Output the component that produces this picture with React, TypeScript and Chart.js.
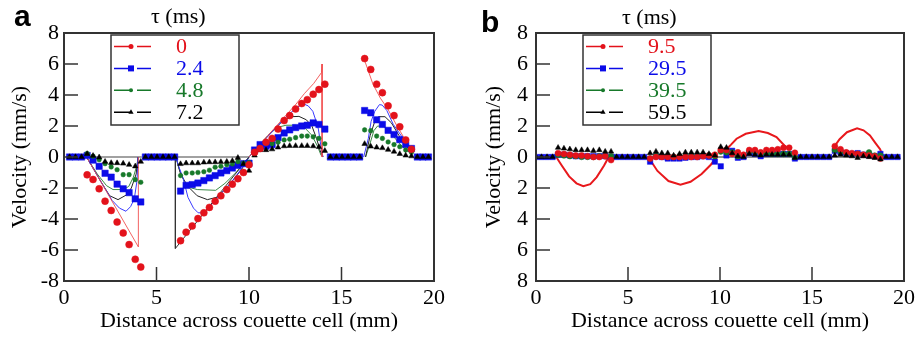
import React, { useEffect, useRef } from "react";
import { Chart, registerables } from "chart.js";

Chart.register(...registerables);

const SERIF = "'Liberation Serif', 'Times New Roman', Times, serif";
const SANS = "'Liberation Sans', Arial, Helvetica, sans-serif";

const RED = "#e3121b";
const BLUE = "#0b0be8";
const GREEN = "#17792a";
const BLACK = "#000000";

// ---------------- Panel a ----------------
const TAU_A = ["0", "2.4", "4.8", "7.2"];
const X_A = [
  0.3, 0.62, 0.95,
  1.25, 1.57, 1.9, 2.22, 2.55, 2.87, 3.2, 3.52, 3.85, 4.15,
  4.4, 4.72, 5.03, 5.35, 5.66, 5.98,
  6.3, 6.6, 6.93, 7.24, 7.56, 7.86, 8.17, 8.48, 8.8, 9.1, 9.4, 9.7, 10.0,
  10.3, 10.6, 10.92, 11.25, 11.57, 11.9, 12.2, 12.52, 12.85, 13.15, 13.47, 13.78, 14.1,
  14.4, 14.72, 15.03, 15.35, 15.66, 15.98,
  16.25, 16.58, 16.9, 17.21, 17.52, 17.84, 18.15, 18.47, 18.78,
  19.1, 19.4, 19.7,
];
const A_TAU0 = [
  null, null, null,
  -1.15, -1.45, -2.05, -2.85, -3.45, -4.2, -4.9, -5.65, -6.6, -7.1,
  null, null, null, null, null, null,
  -5.4, -4.85, -4.45, -3.97, -3.6, -3.25, -2.85, -2.5, -2.1, -1.75, -1.4, -1.0, -0.5,
  0.3, 0.55, 0.95, 1.2, 1.8, 2.35, 2.67, 3.1, 3.45, 3.7, 4.05, 4.35, 4.7,
  null, null, null, null, null, null,
  6.35, 5.65, 4.7, 4.15, 3.3, 2.67, 1.95, 1.1, 0.5,
  null, null, null,
];
const A_TAU24 = [
  0, 0, 0,
  0.1, -0.2, -0.6, -1.05, -1.3, -1.75, -2.05, -2.3, -2.7, -2.9,
  0, 0, 0, 0, 0, 0,
  -2.2, -1.83, -1.78, -1.68, -1.52, -1.35, -1.2, -1.03, -0.88, -0.71, -0.54, -0.43, -0.4,
  0.45, 0.8, 0.7, 0.8, 1.25, 1.55, 1.75, 1.9, 2.0, 2.05, 2.2, 2.1, 1.8,
  0, 0, 0, 0, 0, 0,
  3.0, 2.85, 2.4, 2.1, 1.72, 1.45, 1.12, 0.8, 0.55,
  0, 0, 0,
];
const A_TAU48 = [
  null, null, null,
  0.22, 0.05, -0.17, -0.43, -0.64, -0.82, -1.14, -1.14, -1.46, -1.63,
  null, null, null, null, null, null,
  -1.2, -1.03, -1.03, -1.0, -0.95, -0.85, -0.66, -0.6, -0.5, -0.45, -0.3, -0.4, -0.35,
  0.2, 0.6, 0.9, 0.85, 0.95, 1.1, 1.15, 1.25, 1.35, 1.35, 1.3, 1.2, 0.85,
  null, null, null, null, null, null,
  1.75, 1.7, 1.35, 1.2, 0.97, 0.8, 0.66, 0.45, 0.3,
  null, null, null,
];
const A_TAU72 = [
  0, 0, 0,
  0.2, 0.08, -0.02, -0.3, -0.38, -0.39, -0.42, -0.5, -0.6, -0.3,
  0, 0, 0, 0, 0, 0,
  -0.45, -0.4, -0.4, -0.4, -0.35, -0.33, -0.33, -0.32, -0.3, -0.25, -0.05, -0.45, -0.88,
  0.1, 0.45, 0.45, 0.5, 0.62, 0.7, 0.72, 0.72, 0.72, 0.72, 0.7, 0.65, 0.4,
  0, 0, 0, 0, 0, 0,
  0.85, 0.68, 0.62, 0.58, 0.47, 0.35, 0.2, 0.1, 0.05,
  0, 0, 0,
];
// simulation curves (x, v); null = break between segments
const A_LINE_TAU0 = [
  [1.22, 0], [4.02, -5.8], [4.02, 0], null,
  [10.0, 0], [11.0, 1.35], [12.0, 2.7], [12.5, 3.35], [13.0, 4.1], [13.5, 4.75], [13.92, 5.45], [13.95, 6.0], [13.95, 0], null,
  [16.2, 6.4], [16.7, 4.7], [17.1, 3.8], [17.5, 3.1], [18.0, 2.0], [18.5, 1.0], [18.8, 0.3],
];
const A_LINE_TAU0_GAP2 = [[6.02, 0], [6.02, -5.9], [10.0, 0]];
const A_LINE_TAU24 = [
  [1.22, 0], [2.0, -1.6], [2.6, -2.8], [3.0, -3.3], [3.35, -3.5], [3.6, -3.2], [3.8, -2.7], [3.95, -1.5], [4.0, 0], null,
  [6.05, 0], [6.2, -0.6], [6.45, -1.4], [6.7, -2.6], [7.0, -3.3], [7.25, -3.6], [7.5, -3.6], [7.8, -3.3], [8.5, -2.35], [9.0, -1.7], [9.5, -0.9], [10.0, 0], null,
  [10.0, 0], [11.0, 1.3], [12.0, 2.6], [12.5, 3.1], [12.9, 3.45], [13.2, 3.3], [13.45, 2.95], [13.6, 2.4], [13.75, 1.8], [13.9, 0.6], [14.0, 0], null,
  [16.2, 0], [16.45, 1.2], [16.6, 2.3], [16.8, 2.95], [17.05, 3.38], [17.2, 3.35], [17.45, 3.0], [17.8, 2.1], [18.3, 1.25], [18.8, 0.5],
];
const A_LINE_TAU48 = [
  [1.22, 0], [1.8, -1.1], [2.3, -1.85], [2.65, -2.1], [3.2, -2.1], [3.5, -1.9], [3.75, -1.3], [3.95, -0.5], [4.0, 0], null,
  [6.05, 0], [6.2, -0.7], [6.5, -1.6], [6.9, -2.0], [7.2, -2.1], [8.2, -2.15], [8.7, -1.7], [9.3, -1.0], [10.0, 0], null,
  [10.0, 0], [10.8, 1.1], [11.5, 1.9], [12.0, 2.05], [12.5, 2.05], [13.0, 1.9], [13.4, 1.4], [13.7, 0.7], [13.9, 0.1], [14.0, 0], null,
  [16.3, 0], [16.55, 0.9], [16.75, 1.7], [16.95, 2.0], [17.3, 1.95], [17.7, 1.5], [18.1, 0.9], [18.5, 0.45], [18.8, 0.2],
];
const A_LINE_TAU72 = [
  [1.22, 0], [2.0, -1.6], [2.47, -2.5], [2.92, -2.75], [3.37, -2.45], [3.64, -2.0], [3.9, -1.1], [4.0, 0], null,
  [6.05, 0], [6.3, -1.1], [6.7, -1.9], [7.2, -2.5], [7.75, -2.75], [8.25, -2.6], [8.7, -2.1], [9.2, -1.4], [9.6, -0.8], [10.0, 0], null,
  [10.0, 0], [11.0, 1.35], [11.8, 2.3], [12.3, 2.6], [12.7, 2.62], [13.1, 2.4], [13.4, 2.0], [13.65, 1.2], [13.85, 0.4], [14.0, 0], null,
  [16.3, 0], [16.55, 1.4], [16.8, 2.3], [17.0, 2.6], [17.35, 2.6], [17.7, 2.2], [18.1, 1.4], [18.5, 0.7], [18.8, 0.3],
];
const A_LINE_ZERO = [[1.0, 0], [4.2, 0], null, [6.0, 0], [10.0, 0]];

// ---------------- Panel b ----------------
const TAU_B = ["9.5", "29.5", "39.5", "59.5"];
const X_B = [
  0.0, 0.3, 0.6, 0.9,
  1.2, 1.52, 1.84, 2.16, 2.48, 2.8, 3.12, 3.44, 3.76, 4.08,
  4.38, 4.68, 4.98, 5.28, 5.58, 5.88,
  6.2, 6.52, 6.84, 7.16, 7.48, 7.8, 8.12, 8.44, 8.76, 9.08, 9.4, 9.72, 10.04,
  10.35, 10.66, 10.97, 11.28, 11.59, 11.9, 12.21, 12.52, 12.83, 13.14, 13.45, 13.76, 14.07,
  14.38, 14.69, 15.0, 15.31, 15.62, 15.93,
  16.24, 16.55, 16.86, 17.17, 17.48, 17.79, 18.1, 18.41, 18.72,
  19.03, 19.34, 19.65,
];
const B_TAU95 = [
  null, null, null, null,
  0.25, 0.2, 0.15, 0.1, 0.1, 0.05, 0.0, 0.0, 0.05, -0.2,
  null, null, null, null, null, null,
  -0.1, 0, 0, 0, 0, 0, 0, 0, 0, 0.05, 0.1, 0.15, 0.45,
  0.45, 0.2, 0.3, 0.15, 0.45, 0.45, 0.3, 0.45, 0.45, 0.5, 0.6, 0.6, 0.27,
  null, null, null, null, null, null,
  0.7, 0.5, 0.3, 0.25, 0.2, 0.15, 0.1, 0.05, -0.1,
  null, null, null,
];
const B_TAU295 = [
  0, 0, 0, 0,
  0.15, 0.15, 0.1, 0.05, 0.05, 0.05, 0.05, 0.05, 0.05, 0.0,
  0, 0, 0, 0, 0, 0,
  -0.3, 0.05, 0, -0.1, -0.1, -0.1, -0.05, 0, 0, 0.05, 0, -0.3, -0.6,
  0.1, 0.4, -0.05, 0, 0.25, 0.2, 0.05, 0.2, 0.2, 0.2, 0.2, 0.2, -0.1,
  0, 0, 0, 0, 0, 0,
  0.4, 0.3, 0.25, 0.2, 0.25, 0.15, 0.1, 0.05, 0.2,
  0, 0, 0,
];
const B_TAU395 = [
  null, null, null, null,
  0.15, 0.1, 0.05, 0.05, 0, 0, 0, 0.05, 0.05, 0.05,
  null, null, null, null, null, null,
  -0.1, 0.1, 0.05, 0.05, 0, 0.05, 0.05, 0.1, 0.05, 0.1, 0.1, 0.05, 0.35,
  0.3, 0.3, 0.05, 0.1, 0.35, 0.35, 0.2, 0.25, 0.2, 0.2, 0.2, 0.2, 0,
  null, null, null, null, null, null,
  0.45, 0.35, 0.25, 0.2, 0.2, 0.15, 0.3, 0.1, 0.1,
  null, null, null,
];
const B_TAU595 = [
  0, 0, 0, 0,
  0.6, 0.55, 0.5, 0.45, 0.45, 0.45, 0.4, 0.45, 0.35, 0.35,
  0, 0, 0, 0, 0, 0,
  0.25, 0.35, 0.25, 0.25, 0.1, 0.2, 0.3, 0.3, 0.3, 0.3, 0.2, 0.1, 0.65,
  0.6, 0.25, 0.05, 0, 0.2, 0.15, 0.1, 0.15, 0.15, 0.15, 0.15, 0.15, -0.05,
  0, 0, 0, 0, 0, 0,
  0.1, 0.15, 0.1, 0.05, -0.05, 0.05, 0, -0.05, -0.15,
  0, 0, 0,
];
const B_LINE_TAU95 = [
  [1.1, 0], [1.4, -0.55], [1.8, -1.25], [2.2, -1.7], [2.57, -1.88], [2.95, -1.75], [3.3, -1.3], [3.7, -0.55], [3.95, 0], null,
  [6.1, 0], [6.6, -0.9], [7.2, -1.55], [7.85, -1.78], [8.4, -1.6], [9.0, -1.1], [9.5, -0.5], [9.85, 0], null,
  [10.35, 0.5], [10.6, 0.8], [10.9, 1.18], [11.4, 1.5], [12.1, 1.67], [12.6, 1.55], [13.07, 1.28], [13.5, 0.74], [13.7, 0.55], null,
  [16.2, 0.65], [16.5, 1.15], [16.9, 1.6], [17.45, 1.85], [17.8, 1.72], [18.15, 1.39], [18.45, 0.9], [18.7, 0.5], [18.85, 0.05],
];
const B_LINE_ZERO = [[0.0, 0], [19.8, 0]];

// ---------------- helpers ----------------
type Seg = (number[] | null)[];
const pts = (xs: number[], vs: (number | null)[]) => xs.map((x, i) => ({ x, y: vs[i] }));
const linePts = (segs: Seg) => {
  let lastX = 0;
  return segs.map((p) => {
    if (p) {
      lastX = p[0];
      return { x: p[0], y: p[1] };
    }
    return { x: lastX, y: null as any };
  });
};

const markerSet = (data: any[], color: string, style: string, r: number, order: number) => ({
  type: "line",
  data,
  showLine: false,
  pointStyle: style,
  pointRadius: r,
  pointBackgroundColor: color,
  pointBorderColor: color,
  pointBorderWidth: 0.5,
  order,
});
const lineSet = (data: any[], color: string, w: number, order: number) => ({
  type: "line",
  data,
  showLine: true,
  borderColor: color,
  borderWidth: w,
  pointRadius: 0,
  fill: false,
  tension: 0,
  spanGaps: false,
  order,
});

function drawMarker(ctx: CanvasRenderingContext2D, style: string, x: number, y: number, r: number, color: string) {
  ctx.fillStyle = color;
  ctx.beginPath();
  if (style === "circle") ctx.arc(x, y, r, 0, Math.PI * 2);
  else if (style === "rect") ctx.rect(x - r, y - r, 2 * r, 2 * r);
  else {
    ctx.moveTo(x, y - r * 1.15);
    ctx.lineTo(x + r, y + r * 0.6);
    ctx.lineTo(x - r, y + r * 0.6);
    ctx.closePath();
  }
  ctx.fill();
}

type LegendItem = { label: string; color: string; style: string; r: number };

function makePlugins(legend: LegendItem[]) {
  const frame = {
    id: "frameTicks",
    afterDatasetsDraw(chart: any) {
      const { ctx, chartArea: a, scales } = chart;
      const xs = scales.x;
      const ys = scales.y;
      ctx.save();
      ctx.strokeStyle = "#333";
      ctx.lineWidth = 1.5;
      ctx.beginPath();
      ys.ticks.forEach((t: any) => {
        if (t.value > ys.min && t.value < ys.max) {
          const py = ys.getPixelForValue(t.value);
          ctx.moveTo(a.left, py);
          ctx.lineTo(a.left + 14, py);
        }
      });
      xs.ticks.forEach((t: any) => {
        if (t.value > xs.min && t.value < xs.max) {
          const px = xs.getPixelForValue(t.value);
          ctx.moveTo(px, a.bottom);
          ctx.lineTo(px, a.bottom - 14);
        }
      });
      ctx.stroke();
      ctx.lineWidth = 2;
      ctx.strokeRect(a.left, a.top, a.right - a.left, a.bottom - a.top);
      ctx.restore();
    },
  };
  const leg = {
    id: "boxLegend",
    afterDraw(chart: any) {
      const { ctx, chartArea: a } = chart;
      const bx = a.left + 47;
      const by = a.top + 2;
      const bw = 128;
      const bh = 90;
      ctx.save();
      ctx.fillStyle = "#fff";
      ctx.fillRect(bx, by, bw, bh);
      ctx.strokeStyle = "#333";
      ctx.lineWidth = 1.5;
      ctx.strokeRect(bx, by, bw, bh);
      legend.forEach((it, i) => {
        const cy = by + 11.5 + i * 21.9;
        ctx.strokeStyle = it.color;
        ctx.lineWidth = 1.5;
        ctx.beginPath();
        ctx.moveTo(bx + 3, cy);
        ctx.lineTo(bx + 20, cy);
        ctx.moveTo(bx + 26, cy);
        ctx.lineTo(bx + 40, cy);
        ctx.stroke();
        drawMarker(ctx, it.style, bx + 20, cy, it.r, it.color);
        ctx.fillStyle = it.color;
        ctx.font = `22px ${SERIF}`;
        ctx.textAlign = "left";
        ctx.textBaseline = "middle";
        ctx.fillText(it.label, bx + 65, cy + 1);
      });
      ctx.restore();
    },
  };
  return [frame, leg];
}

type PanelProps = {
  left: number;
  width: number;
  datasets: any[];
  absTicks: boolean;
  yWidth: number;
  yTitlePad: number;
  padRight: number;
  legend: LegendItem[];
};

function Panel(p: PanelProps) {
  const ref = useRef<HTMLCanvasElement>(null);
  useEffect(() => {
    const chart = new Chart(ref.current as HTMLCanvasElement, {
      type: "line",
      data: { datasets: p.datasets },
      plugins: makePlugins(p.legend) as any,
      options: {
        animation: false,
        responsive: false,
        events: [],
        layout: { padding: { top: 33, right: p.padRight, left: 0, bottom: 0 } },
        plugins: { legend: { display: false }, tooltip: { enabled: false } },
        scales: {
          x: {
            type: "linear",
            min: 0,
            max: 20,
            ticks: { stepSize: 5, color: "#000", font: { family: SERIF, size: 22 }, padding: 4, maxRotation: 0 },
            grid: { display: false, drawTicks: false },
            border: { display: false },
            title: {
              display: true,
              text: "Distance across couette cell (mm)",
              color: "#000",
              font: { family: SERIF, size: 22 },
              padding: { top: 0, bottom: 3 },
            },
            afterFit: (s: any) => {
              s.height = 56;
            },
          },
          y: {
            type: "linear",
            min: -8,
            max: 8,
            ticks: {
              stepSize: 2,
              color: "#000",
              font: { family: SERIF, size: 22 },
              padding: p.absTicks ? 8 : 5,
              callback: (v: any) => (p.absTicks ? String(Math.abs(Number(v))) : String(v)),
            },
            grid: { display: false, drawTicks: false },
            border: { display: false },
            title: {
              display: true,
              text: "Velocity (mm/s)",
              color: "#000",
              font: { family: SERIF, size: 22 },
              padding: { top: p.yTitlePad, bottom: 0 },
            },
            afterFit: (s: any) => {
              s.width = p.yWidth;
            },
          },
        },
      } as any,
    });
    return () => chart.destroy();
  }, []);
  return (
    <canvas
      ref={ref}
      width={p.width}
      height={337}
      style={{ position: "absolute", left: p.left, top: 0, width: p.width, height: 337 }}
    />
  );
}

const txt = (extra: React.CSSProperties): React.CSSProperties => ({
  position: "absolute",
  margin: 0,
  lineHeight: 1,
  whiteSpace: "nowrap",
  color: "#000",
  ...extra,
});

export default function App() {
  const dsA = [
    markerSet(pts(X_A, A_TAU0), RED, "circle", 3.5, 1),
    markerSet(pts(X_A, A_TAU72), BLACK, "triangle", 3.2, 2),
    markerSet(pts(X_A, A_TAU48), GREEN, "circle", 2.3, 3),
    markerSet(pts(X_A, A_TAU24), BLUE, "rect", 4.5, 4),
    lineSet(linePts(A_LINE_TAU0), "rgba(240,70,70,0.85)", 1, 5),
    lineSet(linePts(A_LINE_TAU0_GAP2), "#333", 1, 6),
    lineSet(linePts(A_LINE_TAU24), "#3a3aff", 1, 7),
    lineSet(linePts(A_LINE_TAU72), "#222", 1, 8),
    lineSet(linePts(A_LINE_TAU48), "#3a8a46", 1, 9),
    lineSet(linePts(A_LINE_ZERO), "#444", 1.2, 10),
  ];
  const dsB = [
    markerSet(pts(X_B, B_TAU95), RED, "circle", 3, 2),
    markerSet(pts(X_B, B_TAU595), BLACK, "triangle", 3.2, 1),
    markerSet(pts(X_B, B_TAU395), GREEN, "circle", 2.8, 3),
    markerSet(pts(X_B, B_TAU295), BLUE, "rect", 3.8, 4),
    lineSet(linePts(B_LINE_TAU95), "#e8181c", 2, 5),
    lineSet(linePts(B_LINE_ZERO), "#222", 1, 6),
  ];
  const legA: LegendItem[] = [
    { label: TAU_A[0], color: RED, style: "circle", r: 2.5 },
    { label: TAU_A[1], color: BLUE, style: "rect", r: 3 },
    { label: TAU_A[2], color: GREEN, style: "circle", r: 2 },
    { label: TAU_A[3], color: BLACK, style: "triangle", r: 2.6 },
  ];
  const legB: LegendItem[] = [
    { label: TAU_B[0], color: RED, style: "circle", r: 2.5 },
    { label: TAU_B[1], color: BLUE, style: "rect", r: 3 },
    { label: TAU_B[2], color: GREEN, style: "circle", r: 2 },
    { label: TAU_B[3], color: BLACK, style: "triangle", r: 2.6 },
  ];
  return (
    <div style={{ position: "absolute", left: 0, top: 0, width: 919, height: 337, background: "#fff", overflow: "hidden" }}>
      <Panel left={0} width={460} datasets={dsA} absTicks={false} yWidth={64} yTitlePad={7} padRight={26} legend={legA} />
      <Panel left={460} width={459} datasets={dsB} absTicks={true} yWidth={76} yTitlePad={21} padRight={15} legend={legB} />
      <div style={txt({ left: 14, top: 1, fontFamily: SANS, fontWeight: 700, fontSize: 30 })}>a</div>
      <div style={txt({ left: 481, top: 7, fontFamily: SANS, fontWeight: 700, fontSize: 30 })}>b</div>
      <div style={txt({ left: 151, top: 5, fontFamily: SERIF, fontSize: 22 })}>τ (ms)</div>
      <div style={txt({ left: 622, top: 5.5, fontFamily: SERIF, fontSize: 22 })}>τ (ms)</div>
    </div>
  );
}
